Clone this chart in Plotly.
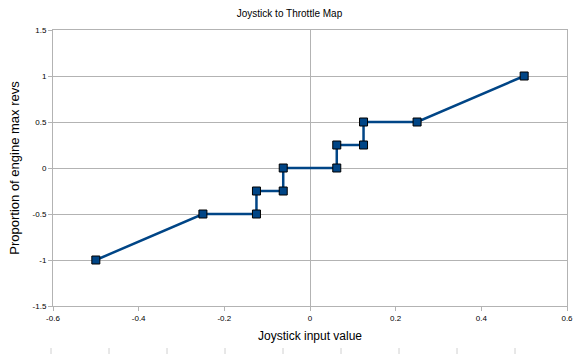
import plotly.graph_objects as go

# Data
joystick = [-0.5, -0.25, -0.125, -0.125, -0.0625, -0.0625, 0.0625, 0.0625, 0.125, 0.125, 0.25, 0.5]
throttle = [-1.0, -0.5, -0.5, -0.25, -0.25, 0.0, 0.0, 0.25, 0.25, 0.5, 0.5, 1.0]

x_tickvals = [-0.6, -0.4, -0.2, 0, 0.2, 0.4, 0.6]
x_ticktext = ["-0.6", "-0.4", "-0.2", "0", "0.2", "0.4", "0.6"]
y_tickvals = [-1.5, -1, -0.5, 0, 0.5, 1, 1.5]
y_ticktext = ["-1.5", "-1", "-0.5", "0", "0.5", "1", "1.5"]

title = "Joystick to Throttle Map"
x_title = "Joystick input value"
y_title = "Proportion of engine max revs"

grid = "#b3b3b3"
line_col = "#004586"
font = "Liberation Sans, Arial, sans-serif"

fig = go.Figure()
fig.add_trace(go.Scatter(
    x=joystick, y=throttle, mode="lines+markers",
    line=dict(color=line_col, width=2.5),
    marker=dict(symbol="square", size=8, color=line_col,
                line=dict(color="black", width=1)),
    showlegend=False,
))

W, H = 579, 354
ml, mr, mt, mb = 53, 12, 30, 48

fig.update_layout(
    width=W, height=H,
    margin=dict(l=ml, r=mr, t=mt, b=mb, autoexpand=False),
    paper_bgcolor="white", plot_bgcolor="white",
    font=dict(family=font, color="black"),
    title=dict(text=title, x=0.5, xanchor="center", y=1 - 13 / H, yanchor="middle",
               font=dict(size=10, family=font, color="black")),
    xaxis=dict(range=[-0.6, 0.6], tickvals=x_tickvals, ticktext=x_ticktext,
               automargin=False,
               showgrid=False, zeroline=True, zerolinecolor=grid, zerolinewidth=1,
               showline=True, linecolor=grid, linewidth=1, mirror=True,
               ticks="outside", ticklen=4, tickcolor=grid,
               tickfont=dict(size=8, family=font, color="black"),
               title=dict(text=x_title, font=dict(size=12, family=font, color="black"),
                          standoff=10)),
    yaxis=dict(range=[-1.5, 1.5], tickvals=y_tickvals, ticktext=y_ticktext,
               automargin=False,
               showgrid=True, gridcolor=grid, gridwidth=1,
               zeroline=False,
               showline=True, linecolor=grid, linewidth=1, mirror=True,
               ticks="outside", ticklen=4, tickcolor=grid,
               tickfont=dict(size=8, family=font, color="black"),
               title=dict(text=y_title, font=dict(size=13, family=font, color="black"),
                          standoff=10)),
)

# decorative small tick marks along the bottom edge
plot_w = W - ml - mr
plot_h = H - mt - mb
n_marks = 9
step_px = 58
for i in range(n_marks):
    px = 51 + i * step_px
    xp = (px - ml) / plot_w
    fig.add_shape(type="line", xref="paper", yref="paper",
                  x0=xp, x1=xp,
                  y0=-(348 - (H - mb)) / plot_h, y1=-(354 - (H - mb)) / plot_h,
                  line=dict(color="#d0d0d0", width=1))

fig.write_html("out.html")
